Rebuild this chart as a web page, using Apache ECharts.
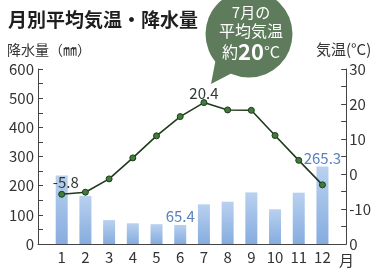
<!DOCTYPE html>
<html>
<head>
<meta charset="utf-8">
<script src="https://cdn.jsdelivr.net/npm/echarts@6/dist/echarts.min.js"></script>
<style>
  html, body { margin: 0; padding: 0; background: #fff; }
  #chart { width: 374px; height: 268px; }
</style>
</head>
<body>
<div id="chart"></div>
<script>
const months = [1, 2, 3, 4, 5, 6, 7, 8, 9, 10, 11, 12]
const precipitation = [235, 165, 82, 71, 68, 65.4, 136, 145, 177, 119, 176, 265.3]
const temperature = [-5.8, -5.2, -1.4, 4.6, 10.9, 16.4, 20.4, 18.3, 18.2, 11.0, 3.9, -3.1]
// which points carry a value label
const precipLabeled = [5, 11]
const tempLabeled = [0, 6]
// right axis tick text as printed
const tempTickText = { '30': '30', '20': '20', '10': '10', '0': '0', '-10': '-10', '-20': '0' }

const font = '"Noto Sans CJK JP", "Noto Sans", sans-serif'
const bubbleColor = '#5e7b5c'

const chart = echarts.init(document.getElementById('chart'))

chart.setOption({
  backgroundColor: '#fff',
  animation: false,
  textStyle: { fontFamily: font },
  title: [
    {
      text: '月別平均気温・降水量',
      left: 3, top: 5,
      textStyle: { fontSize: 19, fontWeight: 'bold', color: '#1e1e1e', fontFamily: font },
    },
    {
      text: '降水量（㎜）',
      left: 2, top: 38,
      textStyle: { fontSize: 14, fontWeight: 'normal', color: '#333', fontFamily: font },
    },
    {
      text: '気温(°C)',
      left: 311, top: 37,
      textStyle: { fontSize: 15, fontWeight: 'normal', color: '#333', fontFamily: font },
    },
    {
      text: '月',
      left: 334, top: 248,
      textStyle: { fontSize: 15, fontWeight: 'normal', color: '#333', fontFamily: font },
    },
  ],
  grid: { left: 38, right: 24, top: 69, bottom: 24 },
  xAxis: {
    type: 'value',
    min: 0,
    max: 13,
    interval: 1,
    axisLine: { show: true, onZero: false, lineStyle: { color: '#444', width: 1 } },
    axisTick: { show: false },
    splitLine: { show: false },
    axisLabel: {
      color: '#333',
      fontSize: 15,
      margin: 6,
      formatter: (v) => (v >= 1 && v <= 12 ? String(v) : ''),
    },
  },
  yAxis: [
    {
      type: 'value',
      min: 0,
      max: 600,
      interval: 100,
      axisLine: { show: true, lineStyle: { color: '#444', width: 1 } },
      axisTick: { show: true, inside: true, length: 5, lineStyle: { color: '#444' } },
      minorTick: { show: true, splitNumber: 2, length: 5, lineStyle: { color: '#444' } },
      splitLine: { show: false },
      axisLabel: { color: '#333', fontSize: 15, margin: 4 },
    },
    {
      type: 'value',
      position: 'right',
      min: -20,
      max: 30,
      interval: 10,
      axisLine: { show: true, lineStyle: { color: '#444', width: 1 } },
      axisTick: { show: true, inside: true, length: 5, lineStyle: { color: '#444' } },
      minorTick: { show: true, splitNumber: 2, length: 5, lineStyle: { color: '#444' } },
      splitLine: { show: false },
      axisLabel: {
        color: '#333',
        fontSize: 15,
        margin: 3,
        formatter: (v) => tempTickText[String(v)] ?? String(v),
      },
    },
  ],
  series: [
    {
      type: 'bar',
      yAxisIndex: 0,
      barWidth: 12,
      data: months.map((m, i) => [m, precipitation[i]]),
      itemStyle: {
        color: {
          type: 'linear', x: 0, y: 0, x2: 0, y2: 1,
          colorStops: [
            { offset: 0, color: '#b9d1ef' },
            { offset: 1, color: '#86acdf' },
          ],
        },
      },
      label: {
        show: true,
        position: 'top',
        distance: 1,
        color: '#5a82bb',
        fontSize: 15,
        fontFamily: font,
        formatter: (p) => (precipLabeled.includes(p.dataIndex) ? p.value[1].toFixed(1) : ''),
      },
      z: 2,
    },
    {
      type: 'line',
      yAxisIndex: 1,
      data: months.map((m, i) => [m, temperature[i]]),
      symbol: 'circle',
      symbolSize: 6,
      lineStyle: { color: '#1f3a1c', width: 1.6 },
      itemStyle: { color: '#3f7d3b', borderColor: '#1e3a1b', borderWidth: 1 },
      label: {
        show: true,
        position: 'top',
        distance: 1,
        color: '#2e3a33',
        fontSize: 15,
        fontFamily: font,
        formatter: (p) => (tempLabeled.includes(p.dataIndex) ? p.value[1].toFixed(1) : ''),
      },
      labelLayout: (params) => (params.dataIndex === 0 ? { dx: 4, dy: 0 } : { dx: 0, dy: 3 }),
      z: 3,
    },
  ],
  graphic: [
    {
      type: 'group',
      z: 10,
      children: [
        {
          type: 'polygon',
          shape: { points: [[216, 58], [211, 84], [234, 72]] },
          style: { fill: bubbleColor },
        },
        {
          type: 'circle',
          shape: { cx: 249, cy: 34, r: 43.5 },
          style: { fill: bubbleColor },
        },
        {
          type: 'text',
          x: 251, y: 33,
          style: {
            text: '{a|7月の}\n{b|平均気温}\n{b|約}{c|20}{b|°C}',
            align: 'center',
            verticalAlign: 'middle',
            fill: '#fff',
            fontFamily: font,
            rich: {
              a: { fontSize: 15, lineHeight: 18, fill: '#fff', fontFamily: font },
              b: { fontSize: 16, lineHeight: 19, fill: '#fff', fontFamily: font },
              c: { fontSize: 22, lineHeight: 22, fontWeight: 'bold', fill: '#fff', fontFamily: font },
            },
          },
        },
      ],
    },
  ],
})
</script>
</body>
</html>
